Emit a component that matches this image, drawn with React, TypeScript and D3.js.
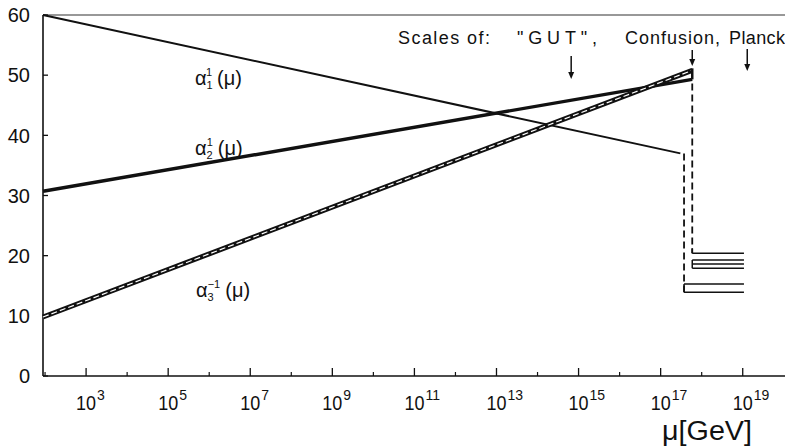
import * as d3 from 'd3';
import { useEffect, useRef } from 'react';

// log10(mu / GeV) range shown on the x axis
const LOG_MU_DOMAIN = [1.95, 20.03];
const Y_DOMAIN = [0, 60];
const Y_TICKS = [0, 10, 20, 30, 40, 50, 60];
const MAJOR_EXPONENTS = [3, 5, 7, 9, 11, 13, 15, 17, 19];
const MINOR_EXPONENTS = [2, 4, 6, 8, 10, 12, 14, 16, 18];

// inverse couplings [log10 mu, value]
const alpha1 = [[1.95, 60], [17.48, 37.0]];
const alpha2 = [[1.95, 30.7], [17.77, 49.3]];
const alpha3 = [[1.95, 9.8], [17.77, 50.8]];

// scale markers (log10 mu)
const GUT_LOG = 14.82;
const CONFUSION_LOG = 17.77;
const ALPHA1_DROP_LOG = 17.57;
const PLANCK_LOG = 19.11;
const THRESHOLD_END_LOG = 19.03;
const upperThresholds = [20.4, 19.3, 18.6, 17.9];
const lowerThresholds = [15.3, 13.9];

const FONT = '"Liberation Sans", Arial, sans-serif';

export default function App() {
  const ref = useRef<SVGSVGElement>(null);

  useEffect(() => {
    document.body.style.margin = '0';
    const svg = d3.select(ref.current);
    svg.selectAll('*').remove();

    const W = 785;
    const H = 446;
    const x = d3
      .scaleLog()
      .domain(LOG_MU_DOMAIN.map((e) => Math.pow(10, e)))
      .range([43, W]);
    const y = d3.scaleLinear().domain(Y_DOMAIN).range([376, 15]);
    const X = (e: number) => x(Math.pow(10, e));

    svg.append('rect').attr('width', W).attr('height', H).attr('fill', '#fff');

    const ink = '#111';

    // frame: left axis, bottom axis, top border
    svg.append('line').attr('x1', 43).attr('x2', 43).attr('y1', y(60)).attr('y2', y(0))
      .attr('stroke', ink).attr('stroke-width', 1.6);
    svg.append('line').attr('x1', 43).attr('x2', W).attr('y1', y(0)).attr('y2', y(0))
      .attr('stroke', ink).attr('stroke-width', 1.6);
    svg.append('line').attr('x1', 43).attr('x2', W).attr('y1', y(60)).attr('y2', y(60))
      .attr('stroke', '#333').attr('stroke-width', 1.2);

    // y ticks
    const yg = svg.append('g');
    Y_TICKS.forEach((t) => {
      yg.append('line').attr('x1', 43).attr('x2', 48).attr('y1', y(t)).attr('y2', y(t))
        .attr('stroke', ink).attr('stroke-width', 1.3);
      yg.append('text').attr('x', 30).attr('y', y(t)).attr('dy', '0.36em')
        .attr('text-anchor', 'end').attr('font-family', FONT).attr('font-size', 20)
        .attr('fill', ink).text(String(t));
    });

    // x ticks
    const xg = svg.append('g');
    MAJOR_EXPONENTS.forEach((e) => {
      xg.append('line').attr('x1', X(e)).attr('x2', X(e)).attr('y1', y(0)).attr('y2', y(0) - 8)
        .attr('stroke', ink).attr('stroke-width', 1.3);
      xg.append('text').attr('x', X(e) - 10).attr('y', 410)
        .attr('font-family', FONT).attr('font-size', 20).attr('fill', ink)
        .attr('textLength', 20).attr('lengthAdjust', 'spacingAndGlyphs').text('10');
      xg.append('text').attr('x', X(e) + 11).attr('y', 400)
        .attr('font-family', FONT).attr('font-size', 14).attr('fill', ink).text(String(e));
    });
    MINOR_EXPONENTS.forEach((e) => {
      xg.append('line').attr('x1', X(e)).attr('x2', X(e)).attr('y1', y(0)).attr('y2', y(0) - 4)
        .attr('stroke', ink).attr('stroke-width', 1.2);
    });

    const line = d3.line<number[]>().x((d) => X(d[0])).y((d) => y(d[1]));

    // alpha_1
    svg.append('path').attr('d', line(alpha1)).attr('fill', 'none')
      .attr('stroke', ink).attr('stroke-width', 2);
    // alpha_2
    svg.append('path').attr('d', line(alpha2)).attr('fill', 'none')
      .attr('stroke', ink).attr('stroke-width', 3.4);
    // alpha_3 band with white dashes inside
    svg.append('path').attr('d', line(alpha3)).attr('fill', 'none')
      .attr('stroke', ink).attr('stroke-width', 5);
    svg.append('path').attr('d', line(alpha3)).attr('fill', 'none')
      .attr('stroke', '#fff').attr('stroke-width', 1.2).attr('stroke-dasharray', '6,3');
    // closing of the wedge at the confusion scale
    svg.append('line').attr('x1', X(CONFUSION_LOG)).attr('x2', X(CONFUSION_LOG))
      .attr('y1', y(alpha3[1][1]) - 2).attr('y2', y(alpha2[1][1]))
      .attr('stroke', ink).attr('stroke-width', 2.5);

    // dashed drops
    svg.append('line').attr('x1', X(ALPHA1_DROP_LOG)).attr('x2', X(ALPHA1_DROP_LOG))
      .attr('y1', y(alpha1[1][1])).attr('y2', y(lowerThresholds[1]))
      .attr('stroke', ink).attr('stroke-width', 1.8).attr('stroke-dasharray', '7,4');
    svg.append('line').attr('x1', X(CONFUSION_LOG)).attr('x2', X(CONFUSION_LOG))
      .attr('y1', y(alpha2[1][1]) + 4).attr('y2', y(upperThresholds[0]))
      .attr('stroke', ink).attr('stroke-width', 1.8).attr('stroke-dasharray', '7,4');

    // threshold plateaus
    upperThresholds.forEach((v) => {
      svg.append('line').attr('x1', X(CONFUSION_LOG)).attr('x2', X(THRESHOLD_END_LOG))
        .attr('y1', y(v)).attr('y2', y(v)).attr('stroke', ink).attr('stroke-width', 1.5);
    });
    svg.append('line').attr('x1', X(CONFUSION_LOG)).attr('x2', X(CONFUSION_LOG))
      .attr('y1', y(upperThresholds[1])).attr('y2', y(upperThresholds[3]))
      .attr('stroke', ink).attr('stroke-width', 1.5);
    svg.append('line').attr('x1', X(CONFUSION_LOG)).attr('x2', X(CONFUSION_LOG))
      .attr('y1', y(upperThresholds[0]) - 5).attr('y2', y(upperThresholds[0]))
      .attr('stroke', ink).attr('stroke-width', 1.5);
    lowerThresholds.forEach((v) => {
      svg.append('line').attr('x1', X(ALPHA1_DROP_LOG)).attr('x2', X(THRESHOLD_END_LOG))
        .attr('y1', y(v)).attr('y2', y(v)).attr('stroke', ink).attr('stroke-width', 1.5);
    });
    svg.append('line').attr('x1', X(ALPHA1_DROP_LOG)).attr('x2', X(ALPHA1_DROP_LOG))
      .attr('y1', y(lowerThresholds[0])).attr('y2', y(lowerThresholds[1]))
      .attr('stroke', ink).attr('stroke-width', 1.5);

    // scale header
    const header = [
      { text: 'Scales of:', x: 398, w: 92 },
      { text: '"GUT",', x: 517, w: 80 },
      { text: 'Confusion,', x: 625, w: 95 },
      { text: 'Planck', x: 729, w: 56 },
    ];
    header.forEach((h) => {
      svg.append('text').attr('x', h.x).attr('y', 44).attr('font-family', FONT)
        .attr('font-size', 18).attr('fill', ink).attr('textLength', h.w)
        .attr('lengthAdjust', 'spacing').text(h.text);
    });

    // arrows
    const arrows = [
      { log: GUT_LOG, y1: 56, y2: 79 },
      { log: CONFUSION_LOG, y1: 50, y2: 66 },
      { log: PLANCK_LOG, y1: 49, y2: 71 },
    ];
    arrows.forEach((a) => {
      const ax = X(a.log);
      svg.append('line').attr('x1', ax).attr('x2', ax).attr('y1', a.y1).attr('y2', a.y2 - 5)
        .attr('stroke', ink).attr('stroke-width', 1.5);
      svg.append('path')
        .attr('d', `M${ax - 3},${a.y2 - 7}L${ax + 3},${a.y2 - 7}L${ax},${a.y2}Z`)
        .attr('fill', ink);
    });

    // coupling labels
    const labels = [
      { sub: '1', sup: '1', x: 195, y: 85 },
      { sub: '2', sup: '1', x: 195, y: 155 },
      { sub: '3', sup: '\u22121', x: 196, y: 297 },
    ];
    labels.forEach((l) => {
      const t = svg.append('text').attr('x', l.x).attr('y', l.y).attr('font-family', FONT)
        .attr('font-size', 20).attr('fill', ink);
      t.append('tspan').text('\u03b1');
      t.append('tspan').attr('font-size', 11).attr('dy', 4).text(l.sub);
      t.append('tspan').attr('font-size', 11).attr('dx', -6).attr('dy', -13).text(l.sup);
      t.append('tspan').attr('dx', 5).attr('dy', 9).text('(\u03bc)');
    });

    // axis title
    svg.append('text').attr('x', 662).attr('y', 440).attr('font-family', FONT)
      .attr('font-size', 27).attr('fill', ink).attr('textLength', 90)
      .attr('lengthAdjust', 'spacingAndGlyphs').text('\u03bc[GeV]');
  }, []);

  return <svg ref={ref} width={785} height={446} style={{ display: 'block' }} />;
}
